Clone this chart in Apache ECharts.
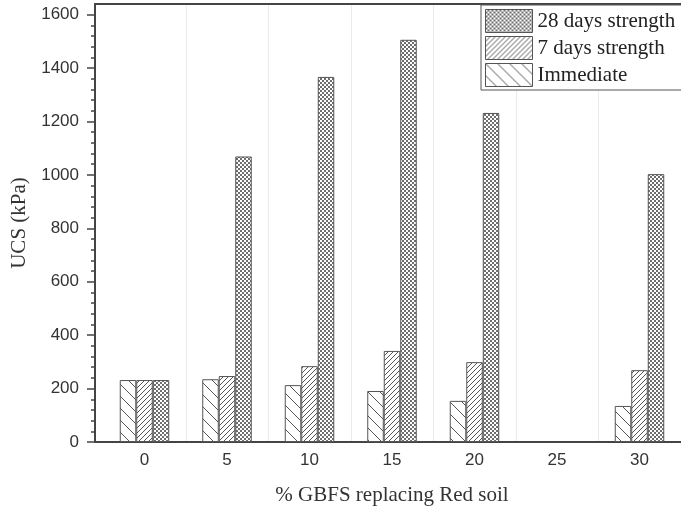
<!DOCTYPE html>
<html><head><meta charset="utf-8">
<script src="https://cdn.jsdelivr.net/npm/echarts@6/dist/echarts.min.js"></script>
<style>html,body{margin:0;padding:0;background:#fff}#c{width:681px;height:510px}</style>
</head><body><div id="c"></div>
<script>
const categories = [0, 5, 10, 15, 20, 25, 30];
const immediate = [232, 235, 213, 191, 154, null, 135];
const days7 = [232, 247, 284, 341, 299, null, 269];
const days28 = [232, 1069, 1367, 1506, 1232, null, 1003];
const yTicks = [0, 200, 400, 600, 800, 1000, 1200, 1400, 1600];
const xGridValues = [2.5, 7.5, 12.5, 17.5, 22.5, 27.5, 32.5];
const seriesNames = ['Immediate', '7 days strength', '28 days strength'];
const legendOrder = ['28 days strength', '7 days strength', 'Immediate'];

function pat(w, h, draw) {
  const c = document.createElement('canvas');
  c.width = w; c.height = h;
  const ctx = c.getContext('2d');
  ctx.fillStyle = '#fff';
  ctx.fillRect(0, 0, w, h);
  draw(ctx, w, h);
  return { image: c, repeat: 'repeat' };
}
const backDiag = pat(12, 12, (ctx, w, h) => {
  ctx.strokeStyle = '#555'; ctx.lineWidth = 1;
  for (const dx of [-w, 0, w]) { ctx.beginPath(); ctx.moveTo(dx, 0); ctx.lineTo(dx + w, h); ctx.stroke(); }
});
const fwdDiag = pat(5, 5, (ctx, w, h) => {
  ctx.strokeStyle = '#555'; ctx.lineWidth = 1;
  for (const dx of [-w, 0, w]) { ctx.beginPath(); ctx.moveTo(dx, h); ctx.lineTo(dx + w, 0); ctx.stroke(); }
});
const dots = pat(4, 4, (ctx, w, h) => {
  ctx.fillStyle = '#6e6e6e';
  ctx.fillRect(0, 0, w, h);
  ctx.fillStyle = '#fff';
  ctx.fillRect(0, 0, 2, 2);
  ctx.fillRect(2, 2, 2, 2);
});
const fills = [backDiag, fwdDiag, dots];
const valueSets = [immediate, days7, days28];

const sans = 'Liberation Sans';
const serif = 'Liberation Serif';
const axisColor = '#444';

const chart = echarts.init(document.getElementById('c'), null, { renderer: 'canvas' });
chart.setOption({
  animation: false,
  backgroundColor: '#fff',
  grid: { left: 95, top: 4, width: 594, height: 438, containLabel: false, outerBoundsMode: 'none' },
  legend: {
    data: legendOrder,
    orient: 'vertical',
    left: 481, top: 5,
    itemWidth: 47, itemHeight: 23, itemGap: 3,
    padding: [4, 10, 3, 4],
    icon: 'rect',
    backgroundColor: '#fff',
    borderColor: '#555', borderWidth: 1,
    itemStyle: { borderColor: '#555', borderWidth: 1 },
    textStyle: { fontFamily: serif, fontSize: 21, color: '#222', lineHeight: 23 }
  },
  xAxis: [{
    type: 'value', min: -3, max: 33, position: 'bottom',
    axisLine: { show: true, onZero: false, lineStyle: { color: axisColor, width: 2 } },
    axisTick: { show: false, customValues: categories },
    axisLabel: { customValues: categories, margin: 10, fontFamily: sans, fontSize: 17, color: '#333',
      formatter: v => String(v) },
    splitLine: { show: false },
    name: '% GBFS replacing Red soil', nameLocation: 'middle', nameGap: 43,
    nameTextStyle: { fontFamily: serif, fontSize: 21, color: '#333' }
  }, {
    type: 'value', min: -3, max: 33, position: 'top',
    axisLine: { show: true, onZero: false, lineStyle: { color: axisColor, width: 2 } },
    axisTick: { show: false, customValues: xGridValues },
    axisLabel: { show: false },
    splitLine: { show: true, lineStyle: { color: '#ebebeb', width: 1 } }
  }],
  yAxis: {
    type: 'value', min: 0, max: 1640, interval: 200,
    axisLine: { show: true, onZero: false, lineStyle: { color: axisColor, width: 2 } },
    axisTick: { show: true, length: 8, customValues: yTicks, lineStyle: { color: axisColor, width: 1.5 } },
    minorTick: { show: true, splitNumber: 5, length: 4, lineStyle: { color: axisColor, width: 1.5 } },
    axisLabel: { customValues: yTicks, margin: 16, fontFamily: sans, fontSize: 17, color: '#333',
      formatter: v => String(v) },
    splitLine: { show: false },
    minorSplitLine: { show: false },
    name: 'UCS (kPa)', nameLocation: 'middle', nameGap: 63,
    nameTextStyle: { fontFamily: serif, fontSize: 21, color: '#333' }
  },
  series: seriesNames.map((name, i) => ({
    name,
    type: 'bar',
    xAxisIndex: 0,
    barWidth: 16.5,
    barGap: '0%',
    itemStyle: { color: fills[i], borderColor: '#555', borderWidth: 1 },
    data: categories.map((c, k) => [c, valueSets[i][k]]).filter(d => d[1] !== null)
  }))
});
</script></body></html>
